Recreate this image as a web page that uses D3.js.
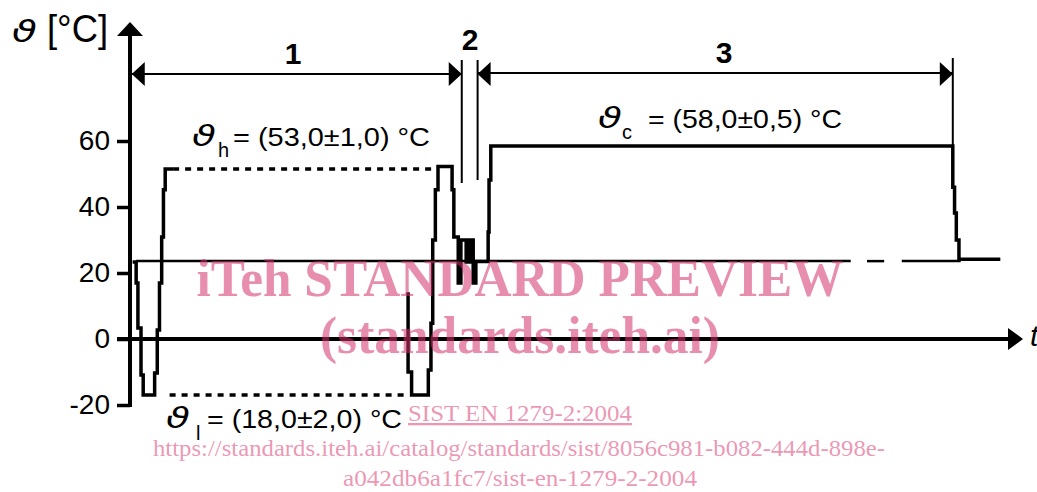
<!DOCTYPE html>
<html><head><meta charset="utf-8">
<script src="https://cdn.jsdelivr.net/npm/d3@7"></script>
<style>body{margin:0;background:#fff}svg{display:block;background:#fff}</style>
</head><body><svg id="c" width="1037" height="492"></svg>
<script>
// ---------------- data ----------------
const yTickValues = [-20, 0, 20, 40, 60];
const yTickLabels = ["-20", "0", "20", "40", "60"];
// temperature profile as step series: [time, °C reached at that time]
const phase1Start = [[0.3,23.3],[0.7,17],[0.9,3.3],[1.25,-10.9],[1.5,-17],[2.8,-10.3],[3.1,2.7],[3.35,17],[3.6,30.9],[3.8,45.2],[4.0,51.5],[4.9,51.5]];
const phase1End = [[31.6,14.2],[31.6,-10],[32.0,-17],[33.9,-9.4],[34.2,4.8],[34.4,30],[34.7,45.2],[35.0,52.3],[36.6,45.2],[36.8,30.9]];
const phase2 = [[37.3,17],[37.6,30],[38.2,23.3],[38.6,30],[39.0,17],[39.3,23.5]];
const phase3 = [[40.7,32.4],[40.8,48.2],[41.0,58.5],[93.5,46],[93.7,38.2],[93.9,30],[94.2,24.2],[98.9,24.2]];
const heatHold = [4.9, 34.8], heatLevel = 51.5;
const coldHold = [4.5, 31.6], coldLevel = -17;
const ambientLevel = 23.6;
const ambientSegments = [[0.7, 81.9], [83.75, 85.7], [87.7, 94.4]];
const phaseBounds = [0.2, 37.7, 39.5, 93.5];
const phaseNames = ["1", "2", "3"];
const labelTexts = ["= (53,0\u00B11,0) \u00B0C", "= (58,0\u00B10,5) \u00B0C", "= (18,0\u00B12,0) \u00B0C"];
const labelSubs = ["h", "c", "l"];
const watermark = ["iTeh STANDARD PREVIEW", "(standards.iteh.ai)"];
const linkTexts = ["SIST EN 1279-2:2004",
  "https://standards.iteh.ai/catalog/standards/sist/8056c981-b082-444d-898e-",
  "a042db6a1fc7/sist-en-1279-2-2004"];

// ---------------- drawing ----------------
const svg = d3.select("#c");
const x = d3.scaleLinear().domain([0, 100]).range([130, 1010]);
const y = d3.scaleLinear().domain([-20, 60]).range([405, 141]);
const line = d3.line().x(d => x(d[0])).y(d => y(d[1])).curve(d3.curveStepAfter);
const SANS = "'Liberation Sans', Arial, sans-serif";

// ambient reference line
svg.append("g").selectAll("line").data(ambientSegments).join("line")
  .attr("x1", d => x(d[0])).attr("x2", d => x(d[1]))
  .attr("y1", y(ambientLevel)).attr("y2", y(ambientLevel))
  .attr("stroke", "#000").attr("stroke-width", 2.5);

// dotted hold lines
[[heatHold, heatLevel], [coldHold, coldLevel]].forEach(([h, v]) => {
  svg.append("line").attr("x1", x(h[0])).attr("x2", x(h[1]))
    .attr("y1", y(v)).attr("y2", y(v))
    .attr("stroke", "#000").attr("stroke-width", 3.5).attr("stroke-dasharray", "6,6");
});

// temperature profile
[phase1Start, phase1End.concat(phase2, phase3)].forEach(p => {
  svg.append("path").attr("d", line(p)).attr("fill", "none")
    .attr("stroke", "#000").attr("stroke-width", 3.5).attr("stroke-linejoin", "miter");
});

// y axis
const yAx = svg.append("g").attr("transform", `translate(${x(0)},0)`)
  .call(d3.axisLeft(y).tickValues(yTickValues).tickSize(13).tickPadding(7)
    .tickFormat((d, i) => yTickLabels[i]));
yAx.select(".domain").remove();
yAx.selectAll(".tick line").attr("stroke", "#000").attr("stroke-width", 3.5);
yAx.selectAll(".tick text").attr("font-family", SANS).attr("font-size", 28).attr("fill", "#000");
svg.append("line").attr("x1", x(0)).attr("x2", x(0)).attr("y1", y(-20) + 2).attr("y2", 32)
  .attr("stroke", "#000").attr("stroke-width", 4);
svg.append("path").attr("d", `M${x(0)},22 L${x(0) - 13},36 L${x(0) + 13},36 Z`).attr("fill", "#000");

// x axis
svg.append("line").attr("x1", 117).attr("x2", 1012).attr("y1", y(0)).attr("y2", y(0))
  .attr("stroke", "#000").attr("stroke-width", 4);
svg.append("path").attr("d", `M1023,${y(0)} L1008,${y(0) - 11} L1008,${y(0) + 11} Z`).attr("fill", "#000");
svg.append("text").attr("x", 1030).attr("y", 346).attr("font-family", SANS)
  .attr("font-style", "italic").attr("font-size", 30).text("t");

// axis title
svg.append("text").attr("x", 12).attr("y", 42).attr("font-family", "'DejaVu Sans', sans-serif")
  .attr("font-style", "italic").attr("font-size", 30).attr("textLength", 25).attr("lengthAdjust", "spacingAndGlyphs").text("\u03D1");
svg.append("text").attr("x", 47).attr("y", 42).attr("font-family", SANS)
  .attr("font-size", 38).attr("textLength", 61).attr("lengthAdjust", "spacingAndGlyphs").text("[\u00B0C]");

// phase dimension lines
const dimY = 74;
function arrowHead(tipX, dir) { // dir -1 points left, +1 points right
  svg.append("path").attr("d", `M${tipX},${dimY} L${tipX - dir * 13},${dimY - 12} L${tipX - dir * 13},${dimY + 12} Z`).attr("fill", "#000");
}
const xb = phaseBounds.map(x);
svg.append("line").attr("x1", xb[0]).attr("x2", xb[1]).attr("y1", dimY).attr("y2", dimY).attr("stroke", "#000").attr("stroke-width", 2);
svg.append("line").attr("x1", xb[2]).attr("x2", xb[3]).attr("y1", dimY - 1).attr("y2", dimY - 1).attr("stroke", "#000").attr("stroke-width", 2);
arrowHead(xb[0], -1); arrowHead(xb[1], 1); arrowHead(xb[2], -1); arrowHead(xb[3], 1);
svg.append("line").attr("x1", xb[1]).attr("x2", xb[1]).attr("y1", 60).attr("y2", 183).attr("stroke", "#000").attr("stroke-width", 2);
svg.append("line").attr("x1", xb[2]).attr("x2", xb[2]).attr("y1", 60).attr("y2", 180).attr("stroke", "#000").attr("stroke-width", 2);
svg.append("line").attr("x1", xb[3]).attr("x2", xb[3]).attr("y1", 58).attr("y2", y(58.5)).attr("stroke", "#000").attr("stroke-width", 2);

const phaseLabelPos = [[293, 64], [470, 50], [724, 63]];
phaseNames.forEach((n, i) => {
  svg.append("text").attr("x", phaseLabelPos[i][0]).attr("y", phaseLabelPos[i][1])
    .attr("text-anchor", "middle").attr("font-family", SANS).attr("font-weight", "bold")
    .attr("font-size", 30).text(n);
});

// temperature labels
const labelPos = [
  {tx: 192, ty: 146, sx: 218, sy: 157, x: 233, len: 197},
  {tx: 598, ty: 128, sx: 622, sy: 139, x: 648, len: 194},
  {tx: 166, ty: 428, sx: 196, sy: 440, x: 207, len: 195}
];
labelTexts.forEach((t, i) => {
  const p = labelPos[i];
  svg.append("text").attr("x", p.tx).attr("y", p.ty).attr("font-family", "'DejaVu Sans', sans-serif")
    .attr("font-style", "italic").attr("font-size", 28).attr("textLength", 24).attr("lengthAdjust", "spacingAndGlyphs").text("\u03D1");
  svg.append("text").attr("x", p.sx).attr("y", p.sy).attr("font-family", SANS).attr("font-size", 20).text(labelSubs[i]);
  svg.append("text").attr("x", p.x).attr("y", p.ty).attr("font-family", SANS).attr("font-size", 26)
    .attr("textLength", p.len).attr("lengthAdjust", "spacingAndGlyphs").text(t);
});

// watermark
const SERIF = "'Liberation Serif', 'Times New Roman', serif";
const wm = svg.append("g").attr("fill", "#d4306a").attr("fill-opacity", 0.55);
wm.append("text").attr("x", 520).attr("y", 296).attr("text-anchor", "middle").attr("font-family", SERIF)
  .attr("font-weight", "bold").attr("font-size", 53).attr("textLength", 647).attr("lengthAdjust", "spacingAndGlyphs").text(watermark[0]);
wm.append("text").attr("x", 520).attr("y", 353).attr("text-anchor", "middle").attr("font-family", SERIF)
  .attr("font-weight", "bold").attr("font-size", 52).attr("textLength", 400).attr("lengthAdjust", "spacingAndGlyphs").text(watermark[1]);
const lk = svg.append("g").attr("fill", "#e0507f").attr("fill-opacity", 0.6).attr("font-family", SERIF).attr("font-size", 23);
lk.append("text").attr("x", 408).attr("y", 421).attr("textLength", 224).attr("lengthAdjust", "spacingAndGlyphs")
  .attr("text-decoration", "underline").text(linkTexts[0]);
lk.append("text").attr("x", 519).attr("y", 456).attr("text-anchor", "middle").attr("textLength", 732).attr("lengthAdjust", "spacingAndGlyphs").text(linkTexts[1]);
lk.append("text").attr("x", 520).attr("y", 486).attr("text-anchor", "middle").attr("textLength", 354).attr("lengthAdjust", "spacingAndGlyphs").text(linkTexts[2]);
</script></body></html>
